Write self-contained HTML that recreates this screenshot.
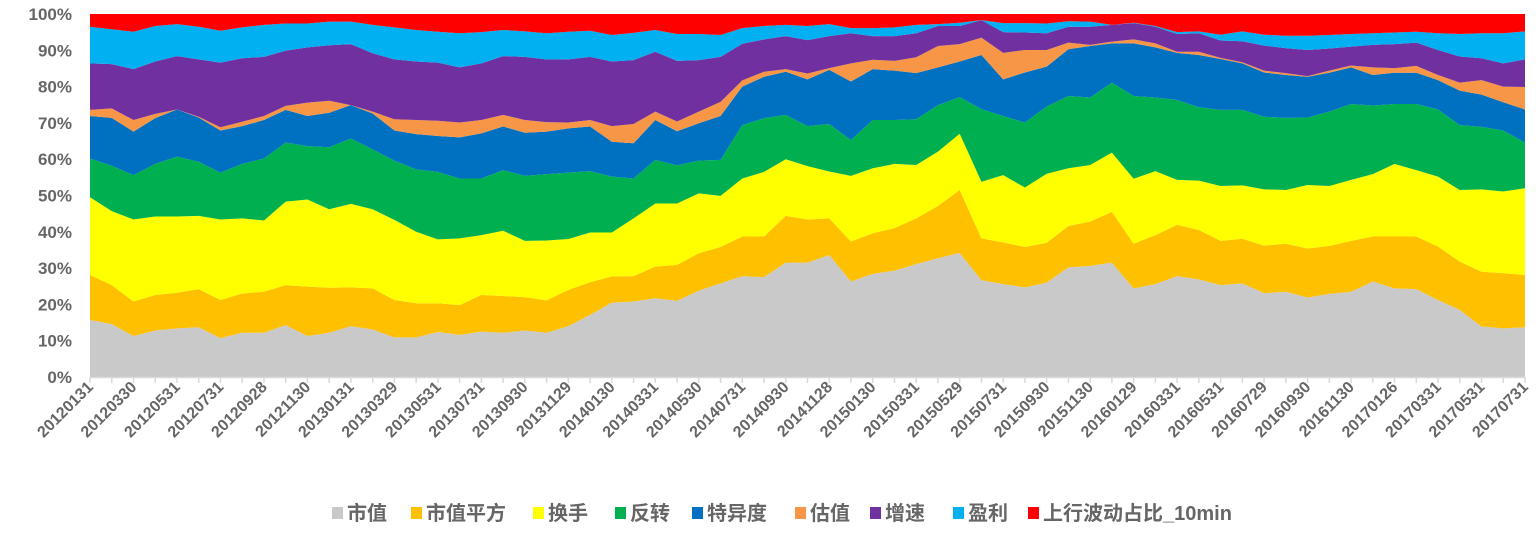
<!DOCTYPE html>
<html><head><meta charset="utf-8"><style>
body{margin:0;background:#fff;}
svg{display:block;font-family:"Liberation Sans","Noto Sans CJK SC",sans-serif;}
</style></head><body>
<svg id="chart" width="1539" height="537" viewBox="0 0 1539 537" xmlns="http://www.w3.org/2000/svg">
<g id="areas"></g>
<g id="axes"></g>
<g id="legend"></g>
</svg>
<script>
const seriesNames=["市值","市值平方","换手","反转","特异度","估值","增速","盈利","上行波动占比_10min"];
const seriesColors=["#c9c9c9","#ffc000","#ffff00","#00b050","#0070c0","#f79646","#7030a0","#00b0f0","#ff0000"];
const categories=["20120131","20120229","20120330","20120427","20120531","20120629","20120731","20120831","20120928","20121031","20121130","20121231","20130131","20130228","20130329","20130426","20130531","20130628","20130731","20130830","20130930","20131031","20131129","20131231","20140130","20140228","20140331","20140430","20140530","20140630","20140731","20140829","20140930","20141031","20141128","20141231","20150130","20150227","20150331","20150430","20150529","20150630","20150731","20150831","20150930","20151030","20151130","20151231","20160129","20160229","20160331","20160429","20160531","20160630","20160729","20160831","20160930","20161031","20161130","20161230","20170126","20170228","20170331","20170428","20170531","20170630","20170731"];
const sMktCap=[15.7,14.6,11.3,12.8,13.4,13.7,10.7,12.2,12.2,14.3,11.3,12.2,14.0,13.1,10.9,10.9,12.4,11.6,12.5,12.2,12.8,12.2,14.0,17.1,20.5,20.8,21.7,21.0,23.8,25.8,27.8,27.5,31.5,31.5,33.6,26.3,28.4,29.3,31.1,32.7,34.2,26.7,25.6,24.7,26.0,30.2,30.6,31.5,24.4,25.6,27.8,26.9,25.3,25.8,23.1,23.5,21.9,22.9,23.5,26.3,24.4,24.2,21.2,18.5,13.9,13.4,13.7];
const sMktCapSq=[12.4,10.7,9.5,9.8,9.8,10.5,10.5,10.8,11.3,11.0,13.6,12.4,10.7,11.3,10.3,9.4,7.9,8.2,10.1,10.1,9.2,8.9,10.0,9.0,7.2,7.0,8.7,9.9,10.3,10.0,10.9,11.2,12.9,11.9,10.1,11.0,11.2,11.7,12.6,14.4,17.3,11.5,11.5,11.1,11.0,11.4,12.2,14.0,12.3,13.5,14.1,13.6,12.2,12.3,13.1,13.2,13.5,13.2,14.0,12.4,14.3,14.5,14.7,13.3,15.1,15.2,14.4];
const sTurnover=[21.4,20.4,22.6,21.6,21.0,20.2,22.2,20.7,19.6,23.0,24.0,21.6,23.0,21.8,22.1,19.7,17.6,18.4,16.5,18.0,15.5,16.5,14.0,13.7,12.1,15.9,17.4,16.9,16.5,14.1,16.0,17.8,15.6,14.7,12.9,18.1,17.9,17.7,14.7,15.0,15.5,15.6,18.5,16.4,19.0,15.9,15.6,16.3,17.9,17.6,12.4,13.6,15.1,14.7,15.5,14.8,17.5,16.5,16.8,17.2,20.0,18.3,19.3,19.7,22.7,22.5,23.9];
const sReversal=[10.7,12.5,12.2,14.5,16.5,14.9,12.9,15.0,17.1,16.3,14.7,17.1,18.0,16.5,16.3,17.2,18.6,16.5,15.6,16.7,17.9,18.3,18.3,16.9,15.4,11.0,12.0,10.5,9.0,9.9,14.7,14.8,12.2,11.0,13.1,9.9,13.3,12.1,12.6,12.8,10.1,20.0,16.3,17.9,18.5,19.9,18.6,19.3,22.8,20.3,22.0,20.2,21.0,20.8,20.0,19.9,18.6,20.5,20.9,18.9,16.5,18.2,18.5,17.9,17.2,16.8,12.6];
const sIdio=[11.7,13.2,12.0,12.6,13.0,12.2,11.6,10.4,10.6,9.0,8.3,9.5,9.2,9.9,8.3,9.7,9.9,11.3,12.4,12.0,11.9,11.7,12.2,12.3,9.6,9.7,11.0,9.4,10.3,12.1,10.6,11.4,11.9,12.9,14.9,16.1,14.0,13.6,12.7,10.4,9.8,14.9,10.1,13.8,11.0,12.9,14.2,10.8,14.5,13.8,13.0,14.4,14.0,12.8,12.2,11.8,11.2,10.7,10.1,8.4,8.6,8.6,8.1,9.5,8.9,7.8,9.1];
const sValue=[1.7,2.6,3.2,1.2,0,0.2,0.9,1.2,1.1,1.1,3.7,3.3,0,0.5,3.1,3.9,4.2,4.1,3.7,3.2,3.5,2.6,1.6,1.8,4.3,5.3,2.3,2.7,3.2,3.9,1.7,1.4,0.7,1.6,0.5,5.0,2.6,2.7,4.4,5.9,4.8,4.8,7.3,6.2,4.6,1.8,0.3,0.5,1.1,1.1,0.3,0.9,0.3,0.3,0.5,0.5,0.2,0.6,0.5,2.1,1.3,1.9,1.4,2.2,4.0,4.3,6.2];
const sGrowth=[12.8,12.2,14.0,14.4,14.7,15.8,17.8,17.5,16.3,15.2,15.2,15.3,16.8,16.1,16.5,16.1,16.0,15.2,15.6,16.2,17.4,17.3,17.4,17.4,17.8,17.6,16.5,16.7,14.2,12.4,10.1,8.9,9.1,9.2,8.8,8.3,6.5,6.8,6.6,5.5,5.0,4.8,5.7,4.8,4.6,4.4,5.0,4.6,4.5,4.6,4.9,5.1,4.8,5.8,6.9,6.9,7.2,6.1,5.2,6.2,6.6,6.4,6.9,7.2,6.0,6.4,7.6];
const sProfit=[10.1,9.6,10.3,9.8,8.8,9.0,8.8,8.5,8.8,7.5,6.6,6.5,6.2,7.8,8.8,8.7,8.5,9.4,8.6,7.2,7.0,7.2,7.6,7.2,7.3,7.5,6.0,7.4,7.2,6.0,4.3,3.7,3.1,3.9,3.3,1.4,2.2,2.4,2.3,0.5,0.9,0,2.5,2.6,2.7,1.5,1.4,0,0.1,0.2,0.5,0.5,1.6,2.7,3.0,3.4,3.9,3.7,3.5,3.2,3.2,3.0,4.6,6.2,6.9,8.3,7.7];
const sUpVol=[3.5,4.2,4.9,3.3,2.8,3.5,4.6,3.7,3.0,2.6,2.6,2.1,2.1,3.0,3.7,4.4,4.9,5.3,5.0,4.4,4.8,5.3,4.9,4.6,5.8,5.2,4.4,5.5,5.5,5.8,3.9,3.3,3.0,3.3,2.8,3.9,3.9,3.7,3.0,2.8,2.4,1.7,2.5,2.5,2.6,2.0,2.1,3.0,2.4,3.3,5.0,4.8,5.7,4.8,5.7,6.0,6.0,5.8,5.5,5.3,5.1,4.9,5.3,5.5,5.3,5.3,4.8];
const yTickLabels=["0%","10%","20%","30%","40%","50%","60%","70%","80%","90%","100%"];
const series=[sMktCap,sMktCapSq,sTurnover,sReversal,sIdio,sValue,sGrowth,sProfit,sUpVol];

const NS="http://www.w3.org/2000/svg";
const X0=90,X1=1525,Y0=377,Y1=14;
const n=categories.length;
function xScale(i){return X0+(X1-X0)*i/(n-1);}
function yScale(p){return Y0-(Y0-Y1)*p/100;}
function mk(tag,attrs,parent){const e=document.createElementNS(NS,tag);for(const k in attrs)e.setAttribute(k,attrs[k]);parent.appendChild(e);return e;}

const areas=document.getElementById('areas');
const totals=categories.map((_,i)=>series.reduce((s,a)=>s+a[i],0));
let base=categories.map(()=>0);
series.forEach((arr,si)=>{
  const top=base.map((b,i)=>b+arr[i]/totals[i]*100);
  let d="";
  for(let i=0;i<n;i++)d+=(i?"L":"M")+xScale(i).toFixed(2)+","+yScale(top[i]).toFixed(2);
  for(let i=n-1;i>=0;i--)d+="L"+xScale(i).toFixed(2)+","+yScale(base[i]).toFixed(2);
  const p=mk('path',{d:d+"Z",fill:seriesColors[si]},areas);
  
  
  base=top;
});

const axes=document.getElementById('axes');
const xl=mk('line',{x1:X0,x2:X1,y1:Y0+0.5,y2:Y0+0.5,stroke:"#d9d9d9","stroke-width":1.5},axes);


yTickLabels.forEach((t,k)=>{
  const tx=mk('text',{x:72,y:yScale(k*10)+6,"text-anchor":"end","font-size":17,"font-weight":"bold",fill:"#666"},axes);
  tx.textContent=t;
  
  
});
for(let i=0;i<n;i++){
  const tk=mk('line',{x1:xScale(i),x2:xScale(i),y1:Y0,y2:Y0+6,stroke:"#d9d9d9","stroke-width":1.5},axes);
  
  
  if(i%2===0){
    const x=xScale(i)+4,y=Y0+11;
    const tx=mk('text',{x:x,y:y,"text-anchor":"end","font-size":16,"font-weight":"bold",fill:"#666",transform:`rotate(-45 ${x} ${y})`},axes);
    tx.textContent=categories[i];
    
    
  }
}

const legend=document.getElementById('legend');
const lx=[332,411,533,615,692,795,870,953,1028];
seriesNames.forEach((nm,si)=>{
  const g=mk('g',{},legend);
  
  
  mk('rect',{x:lx[si],y:507,width:11,height:12,fill:seriesColors[si]},g);
  const t=mk('text',{x:lx[si]+15,y:520,"font-size":20,"font-weight":"bold",fill:"#666"},g);
  t.textContent=nm;
});
</script>
</body></html>
